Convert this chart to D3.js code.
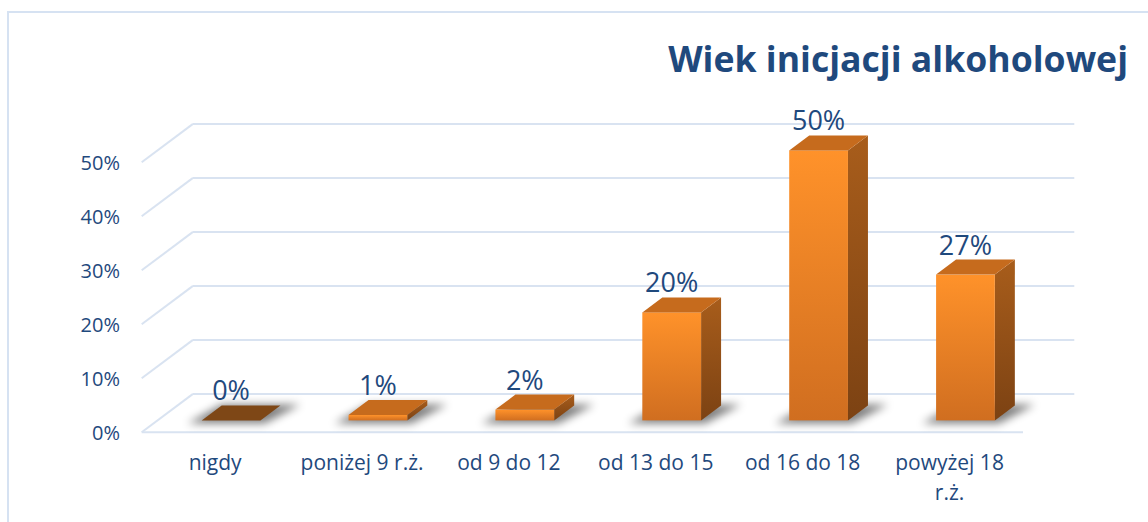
<!DOCTYPE html>
<html>
<head>
<meta charset="utf-8">
<script src="https://cdn.jsdelivr.net/npm/d3@7"></script>
<style>
html,body{margin:0;padding:0;background:#fff;}
svg{display:block;}
</style>
</head>
<body>
<svg id="chart" width="1148" height="522"></svg>
<script>
// ---- data ----
const categories = ["nigdy", "poniżej 9 r.ż.", "od 9 do 12", "od 13 do 15", "od 16 do 18", "powyżej 18 r.ż."];
const values = [0, 0.01, 0.02, 0.20, 0.50, 0.27];
const tickValues = [0, 0.1, 0.2, 0.3, 0.4, 0.5];
const titleText = "Wiek inicjacji alkoholowej";

// ---- layout ----
const W = 1148, H = 522;
const FONT = "'Open Sans', sans-serif";
const textColor = "#1F497D";
const gridColor = "#D9E3F1";

const floorFront = {x0: 141.7, x1: 1023, y0: 432.3};
const depth = {dx: 51.3, dy: -38.4};          // floor depth
const barFrontFrac = 0.31;                     // position of bar front in depth
const barDepthFrac = 0.39;                     // bar depth as fraction of floor depth
const barWidthFrac = 0.40;

const svg = d3.select("#chart");
const defs = svg.append("defs");

// border
svg.append("rect").attr("x", 8).attr("y", 12).attr("width", 1160).attr("height", 540)
  .attr("fill", "none").attr("stroke", "#D6E2F2").attr("stroke-width", 2);

const x = d3.scaleBand().domain(categories).range([floorFront.x0, floorFront.x1]).paddingInner(0).paddingOuter(0);
const y = d3.scaleLinear().domain([0, 0.5]).range([0, 270]); // height in px

// gridlines (floor-front y and back y)
const grid = svg.append("g");
tickValues.forEach(t => {
  const yf = floorFront.y0 - y(t);
  const yb = yf + depth.dy;
  grid.append("line").attr("x1", floorFront.x0).attr("y1", yf)
    .attr("x2", floorFront.x0 + depth.dx).attr("y2", yb)
    .attr("stroke", gridColor).attr("stroke-width", 2);
  grid.append("line").attr("x1", floorFront.x0 + depth.dx).attr("y1", yb)
    .attr("x2", floorFront.x1 + depth.dx).attr("y2", yb)
    .attr("stroke", gridColor).attr("stroke-width", 2);
});
grid.append("line").attr("x1", floorFront.x0).attr("y1", floorFront.y0)
  .attr("x2", floorFront.x1).attr("y2", floorFront.y0)
  .attr("stroke", gridColor).attr("stroke-width", 2);

// y tick labels
const fmt = d3.format(".0%");
svg.append("g").selectAll("text").data(tickValues).join("text")
  .attr("x", 120).attr("y", d => floorFront.y0 - y(d) + 8)
  .attr("text-anchor", "end").attr("font-family", FONT).attr("font-size", 20)
  .attr("fill", textColor).text(d => fmt(d));

// gradients
const gFront = defs.append("linearGradient").attr("id", "gFront").attr("x1", 0).attr("y1", 0).attr("x2", 0).attr("y2", 1);
gFront.append("stop").attr("offset", "0%").attr("stop-color", "#FF922A");
gFront.append("stop").attr("offset", "100%").attr("stop-color", "#D06E20");
const gSide = defs.append("linearGradient").attr("id", "gSide").attr("x1", 0).attr("y1", 0).attr("x2", 0).attr("y2", 1);
gSide.append("stop").attr("offset", "0%").attr("stop-color", "#A85D1B");
gSide.append("stop").attr("offset", "100%").attr("stop-color", "#7C4213");
const blur = defs.append("filter").attr("id", "blur").attr("x", "-50%").attr("y", "-100%").attr("width", "200%").attr("height", "300%");
blur.append("feGaussianBlur").attr("stdDeviation", 4);

const bw = x.bandwidth() * barWidthFrac;
const fdx = depth.dx * barFrontFrac, fdy = depth.dy * barFrontFrac;
const bdx = depth.dx * barDepthFrac, bdy = depth.dy * barDepthFrac;

const bars = svg.append("g").selectAll("g").data(categories.map((c, i) => ({c, v: values[i]}))).join("g");
bars.each(function(d) {
  const g = d3.select(this);
  const x0 = x(d.c) + (x.bandwidth() - bw) / 2 + fdx;
  const yb = floorFront.y0 + fdy;       // bottom of bar front
  const h = y(d.v);
  const yt = yb - h;
  // shadow
  g.append("polygon")
    .attr("points", [[x0 - 14, yb + 3], [x0 + bw + 4, yb + 3], [x0 + bw + bdx + 20, yb + bdy - 1], [x0 + bdx, yb + bdy - 1]].map(p => p.join(",")).join(" "))
    .attr("fill", "#000").attr("opacity", 0.5).attr("filter", "url(#blur)");
  // side
  g.append("polygon")
    .attr("points", [[x0 + bw, yt], [x0 + bw + bdx, yt + bdy], [x0 + bw + bdx, yb + bdy], [x0 + bw, yb]].map(p => p.join(",")).join(" "))
    .attr("fill", "url(#gSide)");
  // front
  if (h > 0) g.append("rect").attr("x", x0).attr("y", yt).attr("width", bw).attr("height", h).attr("fill", "url(#gFront)");
  // top
  g.append("polygon")
    .attr("points", [[x0, yt], [x0 + bw, yt], [x0 + bw + bdx, yt + bdy], [x0 + bdx, yt + bdy]].map(p => p.join(",")).join(" "))
    .attr("fill", d.v > 0 ? "#C66B1D" : "#7E4716");
  // value label
  g.append("text").attr("x", x0 + bw / 2).attr("y", yt - 20)
    .attr("text-anchor", "middle").attr("font-family", FONT).attr("font-size", 27)
    .attr("fill", textColor).text(fmt(d.v));
});

// category labels with wrapping
const catG = svg.append("g");
categories.forEach(c => {
  const t = catG.append("text").attr("x", x(c) + x.bandwidth() / 2).attr("y", 470)
    .attr("text-anchor", "middle").attr("font-family", FONT).attr("font-size", 21).attr("fill", textColor);
  const words = c.split(" ");
  let line = [], lineNo = 0;
  let ts = t.append("tspan").attr("x", x(c) + x.bandwidth() / 2).attr("dy", 0);
  words.forEach(w => {
    line.push(w);
    ts.text(line.join(" "));
    if (ts.node().getComputedTextLength() > 140 && line.length > 1) {
      line.pop();
      ts.text(line.join(" "));
      line = [w];
      lineNo++;
      ts = t.append("tspan").attr("x", x(c) + x.bandwidth() / 2).attr("dy", 30).text(w);
    }
  });
});

// title
const title = svg.append("text").attr("x", 1128).attr("y", 72).attr("text-anchor", "end")
  .attr("font-family", FONT).attr("font-weight", "bold").attr("font-size", 36)
  .attr("fill", textColor).text(titleText);
const tw = title.node().getComputedTextLength();
title.attr("font-size", 36 * 460 / tw);
</script>
</body>
</html>
